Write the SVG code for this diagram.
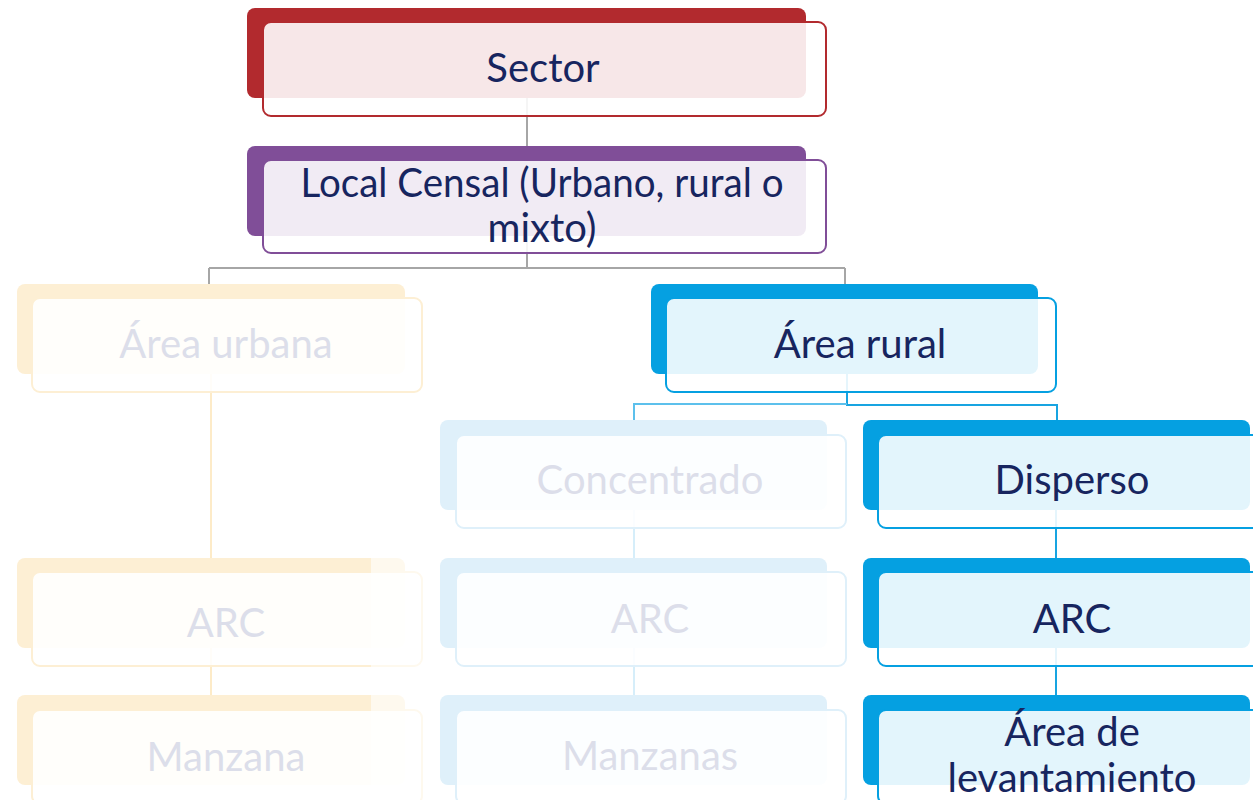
<svg xmlns="http://www.w3.org/2000/svg" width="1253" height="800" viewBox="0 0 1253 800">
<style>
.t{font-family:Lato,"Open Sans","Liberation Sans",sans-serif;font-size:40px;text-anchor:middle;fill:#17255F}
.tf{fill:#DCDEEA}
.front{fill:#FFFFFF;fill-opacity:0.89;stroke-width:2}
.c{fill:none;stroke-width:2}
</style>
<rect width="1253" height="800" fill="#FFFFFF"/>
<g id="connectors">
<path class="c" d="M527 98V146" stroke="#A6A6A6"/>
<path class="c" d="M527 236V268M209 268H845M209 268V285M845 268V285" stroke="#A6A6A6"/>
<path class="c" d="M211 374V558M211 648V695" stroke="#FDEBC8"/>
<path class="c" d="M847 374V405H1057V420" stroke="#18A4E1"/>
<path class="c" d="M847 404H634V420" stroke="#5CC0EC"/>
<path class="c" d="M634 510V558M634 648V695" stroke="#D6EEFA"/>
<path class="c" d="M1056 510V558M1056 648V695" stroke="#18A4E1"/>
</g>
<g id="sector">
<rect x="247" y="8" width="559" height="90" rx="8" fill="#B22A2E"/>
<rect class="front" x="263" y="22" width="563" height="94" rx="8" stroke="#B22A2E"/>
<text class="t" x="543" y="82">Sector</text>
</g>
<g id="local-censal">
<rect x="247" y="146" width="559" height="90" rx="8" fill="#804E98"/>
<rect class="front" x="263" y="160" width="563" height="93" rx="8" stroke="#804E98"/>
<text class="t" x="542" y="197" textLength="483" lengthAdjust="spacingAndGlyphs">Local Censal (Urbano, rural o</text>
<text class="t" x="542" y="242">mixto)</text>
</g>
<g id="area-urbana">
<rect x="17" y="284" width="388" height="90" rx="8" fill="#FDEFD4"/>
<rect class="front" x="32" y="298" width="390" height="94" rx="8" stroke="#FDEFD4"/>
<text class="t tf" x="226" y="358">Área urbana</text>
</g>
<g id="area-rural">
<rect x="651" y="284" width="387" height="90" rx="8" fill="#05A0E1"/>
<rect class="front" x="666" y="298" width="390" height="94" rx="8" stroke="#05A0E1"/>
<text class="t" x="860" y="358">Área rural</text>
</g>
<g id="concentrado">
<rect x="440" y="420" width="387" height="90" rx="8" fill="#DFF0FA"/>
<rect class="front" x="456" y="435" width="390" height="93" rx="8" stroke="#DFF0FA"/>
<text class="t tf" x="650" y="494">Concentrado</text>
</g>
<g id="disperso">
<rect x="863" y="420" width="387" height="90" rx="8" fill="#05A0E1"/>
<rect class="front" x="878" y="435" width="390" height="93" rx="8" stroke="#05A0E1"/>
<text class="t" x="1072" y="494">Disperso</text>
</g>
<g id="arc-urbano">
<rect x="17" y="558" width="388" height="90" rx="8" fill="#FDEFD4"/>
<rect class="front" x="32" y="572" width="390" height="94" rx="8" stroke="#FDEFD4"/>
<text class="t tf" x="226" y="637">ARC</text>
</g>
<g id="manzana">
<rect x="17" y="695" width="388" height="90" rx="8" fill="#FDEFD4"/>
<rect class="front" x="32" y="710" width="390" height="94" rx="8" stroke="#FDEFD4"/>
<text class="t tf" x="226" y="771">Manzana</text>
</g>
<rect x="371" y="555" width="60" height="245" fill="#FFFFFF" fill-opacity="0.6"/>
<g id="arc-concentrado">
<rect x="440" y="558" width="387" height="90" rx="8" fill="#DFF0FA"/>
<rect class="front" x="456" y="572" width="390" height="94" rx="8" stroke="#DFF0FA"/>
<text class="t tf" x="650" y="633">ARC</text>
</g>
<g id="manzanas">
<rect x="440" y="695" width="387" height="90" rx="8" fill="#DFF0FA"/>
<rect class="front" x="456" y="710" width="390" height="94" rx="8" stroke="#DFF0FA"/>
<text class="t tf" x="650" y="770">Manzanas</text>
</g>
<g id="arc-disperso">
<rect x="863" y="558" width="387" height="90" rx="8" fill="#05A0E1"/>
<rect class="front" x="878" y="572" width="390" height="94" rx="8" stroke="#05A0E1"/>
<text class="t" x="1072" y="633">ARC</text>
</g>
<g id="area-levantamiento">
<rect x="863" y="695" width="387" height="90" rx="8" fill="#05A0E1"/>
<rect class="front" x="878" y="710" width="390" height="94" rx="8" stroke="#05A0E1"/>
<text class="t" x="1072" y="746">Área de</text>
<text class="t" x="1072" y="792">levantamiento</text>
</g>
</svg>
